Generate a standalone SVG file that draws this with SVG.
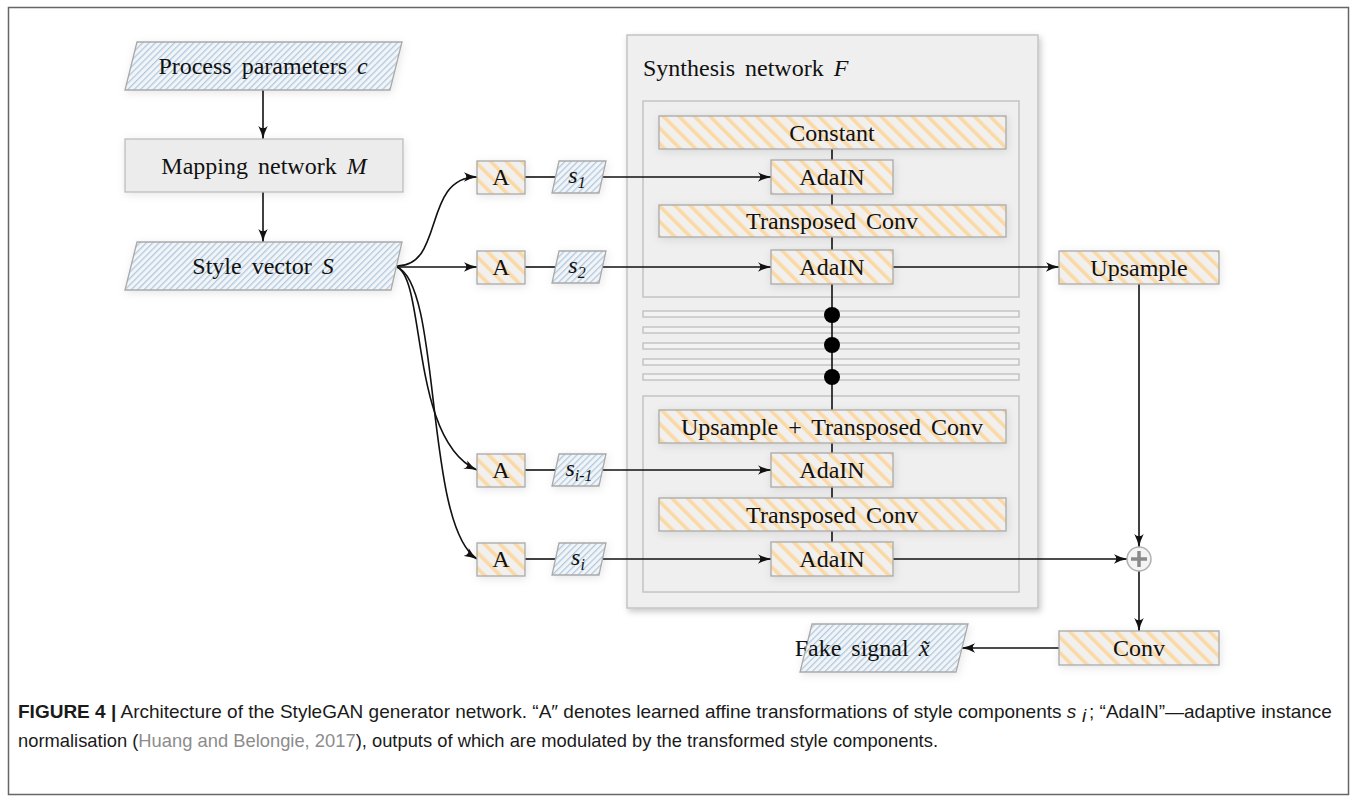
<svg xmlns="http://www.w3.org/2000/svg" width="1357" height="802" viewBox="0 0 1357 802">
  <defs>
    <style>
      .lbl { font-family: "Liberation Serif", "Times New Roman", serif; font-size: 24px; fill: #111; text-anchor: middle; word-spacing: 4px; }
      .it { font-style: italic; }
      .sub { font-size: 16px; font-style: italic; }
      .orange { fill: url(#hatchOrange); stroke: #a9a9a9; stroke-width: 1.3; filter: url(#soft); }
      .blue { fill: url(#hatchBlue); stroke: #a9a9a9; stroke-width: 1.3; filter: url(#soft); }
      .plain { fill: #ececec; stroke: #bdbdbd; stroke-width: 1.3; filter: url(#soft); }
      .frame { fill: #efefef; stroke: #c4c4c4; stroke-width: 1.5; }
      .bar { fill: #f3f3f3; stroke: #bdbdbd; stroke-width: 1.3; }
      .wire { fill: none; stroke: #111; stroke-width: 1.6; }
      .arrow { marker-end: url(#head); }
      .cap { font-family: "Liberation Sans", Arial, sans-serif; font-size: 19px; fill: #1a1a1a; }
    </style>
    <pattern id="hatchOrange" width="11" height="11" patternUnits="userSpaceOnUse" patternTransform="rotate(-45)">
      <rect width="11" height="11" fill="#f1f0ee"/>
      <rect x="0" y="0" width="3.6" height="11" fill="#fbd9a5"/>
    </pattern>
    <pattern id="hatchBlue" width="4.5" height="4.5" patternUnits="userSpaceOnUse" patternTransform="rotate(45)">
      <rect width="4.5" height="4.5" fill="#f2f5f8"/>
      <rect x="0" y="0" width="1.3" height="4.5" fill="#b3c9de"/>
    </pattern>
    <filter id="soft" x="-20%" y="-40%" width="140%" height="180%">
      <feDropShadow dx="1" dy="2" stdDeviation="4" flood-color="#000" flood-opacity="0.10"/>
    </filter>
    <filter id="boxShadow" x="-5%" y="-5%" width="110%" height="110%">
      <feDropShadow dx="2" dy="3" stdDeviation="3" flood-color="#000" flood-opacity="0.22"/>
    </filter>
    <marker id="head" viewBox="0 0 14 10" refX="13" refY="5" markerWidth="14" markerHeight="10" markerUnits="userSpaceOnUse" orient="auto">
      <path d="M0,0.3 Q6,3.6 14,5 Q6,6.4 0,9.7 Q4.5,5 0,0.3 Z" fill="#111"/>
    </marker>
  </defs>

  <rect width="1357" height="802" fill="#fff"/>
  <!-- figure frame -->
  <rect x="8.5" y="7.5" width="1340" height="787" fill="none" stroke="#666" stroke-width="1.5"/>

  <!-- synthesis network container -->
  <g id="synthesis">
    <rect class="frame" x="627" y="35" width="411" height="573" filter="url(#boxShadow)"/>
    <text class="lbl" x="643" y="76" style="text-anchor:start">Synthesis network <tspan class="it">F</tspan></text>
    <rect class="frame" x="643" y="101" width="376" height="196"/>
    <rect class="bar" x="643" y="311" width="376" height="6"/>
    <rect class="bar" x="643" y="327" width="376" height="6"/>
    <rect class="bar" x="643" y="343" width="376" height="6"/>
    <rect class="bar" x="643" y="359" width="376" height="6"/>
    <rect class="bar" x="643" y="374" width="376" height="6"/>
    <rect class="frame" x="643" y="396" width="376" height="196"/>
  </g>

  <!-- connectors -->
  <g id="connectors">
    <path class="wire arrow" d="M263,90 L263,139"/>
    <path class="wire arrow" d="M263,192 L263,242"/>
    <!-- style vector fan-out -->
    <path class="wire arrow" d="M397,266 C445,266 422,177 477,177"/>
    <path class="wire arrow" d="M397,267 L477,267"/>
    <path class="wire arrow" d="M397,267 C426,280 410,440 477,470"/>
    <path class="wire arrow" d="M397,267 C442,285 424,525 477,559"/>
    <!-- A to s to AdaIN -->
    <path class="wire" d="M525,177 L556,177"/>
    <path class="wire arrow" d="M603,177 L771,177"/>
    <path class="wire" d="M525,267 L556,267"/>
    <path class="wire arrow" d="M603,267 L771,267"/>
    <path class="wire" d="M525,470 L556,470"/>
    <path class="wire arrow" d="M603,470 L771,470"/>
    <path class="wire" d="M525,559 L556,559"/>
    <path class="wire arrow" d="M603,559 L771,559"/>
    <!-- synthesis spine -->
    <path class="wire" d="M832,149 L832,542"/>
    <!-- outputs -->
    <path class="wire arrow" d="M893,267 L1059,267"/>
    <path class="wire arrow" d="M893,559 L1127,559"/>
    <path class="wire arrow" d="M1139,284 L1139,547"/>
    <path class="wire arrow" d="M1139,571 L1139,631"/>
    <path class="wire arrow" d="M1059,648 L962,648"/>
  </g>

  <g id="ellipsis-dots" fill="#000">
    <circle cx="832" cy="315" r="8"/>
    <circle cx="832" cy="345" r="8"/>
    <circle cx="832" cy="377" r="8"/>
  </g>

  <g id="process-parameters">
    <polygon class="blue" points="137,42 402,42 390,90 125,90"/>
    <text class="lbl" x="263" y="74">Process parameters <tspan class="it">c</tspan></text>
  </g>
  <g id="mapping-network">
    <rect class="plain" x="125" y="139" width="278" height="53"/>
    <text class="lbl" x="264" y="174">Mapping network <tspan class="it">M</tspan></text>
  </g>
  <g id="style-vector">
    <polygon class="blue" points="137,242 402,242 391,290 125,290"/>
    <text class="lbl" x="263" y="274">Style vector <tspan class="it">S</tspan></text>
  </g>

  <g id="affine-1">
    <rect class="orange" x="477" y="161" width="48" height="33"/>
    <text class="lbl" x="501" y="185">A</text>
  </g>
  <g id="style-1">
    <polygon class="blue" points="559,161 606,161 599,193 552,193"/>
    <text class="lbl" x="577" y="183"><tspan class="it">s</tspan><tspan class="sub" dy="5">1</tspan></text>
  </g>
  <g id="affine-2">
    <rect class="orange" x="477" y="251" width="48" height="33"/>
    <text class="lbl" x="501" y="275">A</text>
  </g>
  <g id="style-2">
    <polygon class="blue" points="559,251 606,251 599,283 552,283"/>
    <text class="lbl" x="577" y="273"><tspan class="it">s</tspan><tspan class="sub" dy="5">2</tspan></text>
  </g>
  <g id="affine-3">
    <rect class="orange" x="477" y="454" width="48" height="33"/>
    <text class="lbl" x="501" y="478">A</text>
  </g>
  <g id="style-3">
    <polygon class="blue" points="559,454 606,454 599,486 552,486"/>
    <text class="lbl" x="579" y="476" style="word-spacing:0"><tspan class="it">s</tspan><tspan class="sub" dy="5">i-1</tspan></text>
  </g>
  <g id="affine-4">
    <rect class="orange" x="477" y="543" width="48" height="33"/>
    <text class="lbl" x="501" y="567">A</text>
  </g>
  <g id="style-4">
    <polygon class="blue" points="559,543 606,543 599,575 552,575"/>
    <text class="lbl" x="578" y="565"><tspan class="it">s</tspan><tspan class="sub" dy="5">i</tspan></text>
  </g>

  <g id="constant">
    <rect class="orange" x="659" y="116" width="347" height="33"/>
    <text class="lbl" x="832" y="141">Constant</text>
  </g>
  <g id="adain-1">
    <rect class="orange" x="771" y="160" width="122" height="34"/>
    <text class="lbl" x="832" y="185">AdaIN</text>
  </g>
  <g id="transposed-conv-1">
    <rect class="orange" x="659" y="205" width="347" height="32"/>
    <text class="lbl" x="832" y="229">Transposed Conv</text>
  </g>
  <g id="adain-2">
    <rect class="orange" x="771" y="250" width="122" height="34"/>
    <text class="lbl" x="832" y="275">AdaIN</text>
  </g>
  <g id="upsample-transposed-conv">
    <rect class="orange" x="659" y="410" width="347" height="33"/>
    <text class="lbl" x="832" y="435">Upsample + Transposed Conv</text>
  </g>
  <g id="adain-3">
    <rect class="orange" x="771" y="453" width="122" height="34"/>
    <text class="lbl" x="832" y="478">AdaIN</text>
  </g>
  <g id="transposed-conv-2">
    <rect class="orange" x="659" y="498" width="347" height="33"/>
    <text class="lbl" x="832" y="523">Transposed Conv</text>
  </g>
  <g id="adain-4">
    <rect class="orange" x="771" y="542" width="122" height="34"/>
    <text class="lbl" x="832" y="567">AdaIN</text>
  </g>

  <g id="upsample">
    <rect class="orange" x="1059" y="251" width="160" height="33"/>
    <text class="lbl" x="1139" y="276">Upsample</text>
  </g>
  <g id="sum">
    <circle cx="1139" cy="559" r="12" fill="#f4f4f4" stroke="#b0b0b0" stroke-width="1.5"/>
    <path d="M1131,559 H1147 M1139,551 V567" stroke="#8a8a8a" stroke-width="3.5"/>
  </g>
  <g id="conv">
    <rect class="orange" x="1059" y="631" width="160" height="34"/>
    <text class="lbl" x="1139" y="656">Conv</text>
  </g>
  <g id="fake-signal">
    <polygon class="blue" points="812,624 968,624 956,672 800,672"/>
    <text class="lbl" x="862" y="656">Fake signal <tspan class="it">x̃</tspan></text>
  </g>

  <!-- caption -->
  <text class="cap" x="18" y="718"><tspan font-weight="bold">FIGURE 4 |</tspan> Architecture of the StyleGAN generator network. “A″ denotes learned affine transformations of style components <tspan font-style="italic">s</tspan></text>
  <text class="cap" x="1082" y="722" font-size="13" font-style="italic">i</text>
  <text class="cap" x="1089" y="718">; “AdaIN”—adaptive instance</text>
  <text class="cap" x="18" y="747" textLength="920" lengthAdjust="spacingAndGlyphs">normalisation (<tspan fill="#8c8c8c">Huang and Belongie, 2017</tspan>), outputs of which are modulated by the transformed style components.</text>
</svg>
